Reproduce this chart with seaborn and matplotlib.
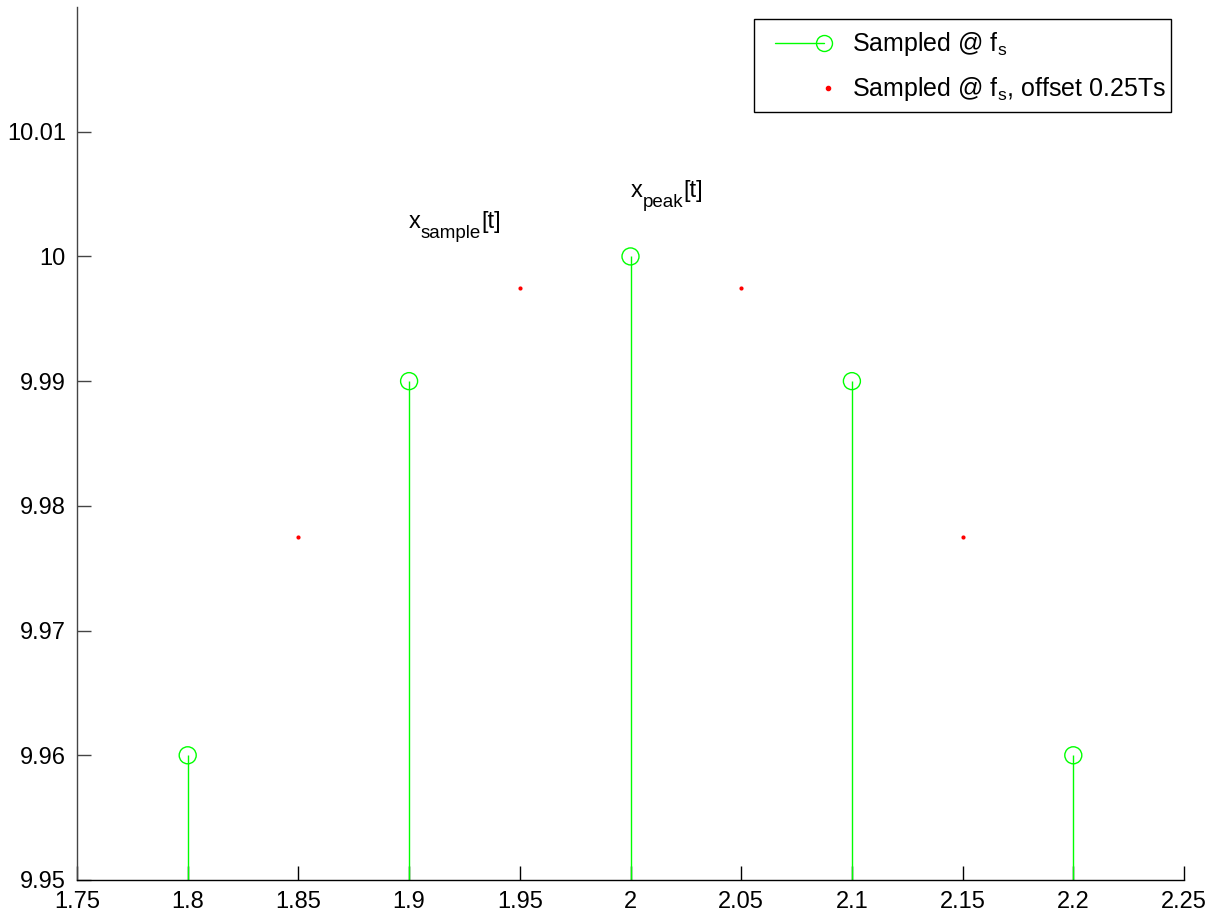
import matplotlib
matplotlib.use("Agg")
import matplotlib.pyplot as plt
from matplotlib.lines import Line2D
from matplotlib.legend_handler import HandlerBase
from matplotlib.transforms import offset_copy
import seaborn as sns
import pandas as pd

# Samples taken at the sampling rate
x_fs = [1.8, 1.9, 2.0, 2.1, 2.2]
y_fs = [9.96, 9.99, 10.0, 9.99, 9.96]

# Samples shifted by a quarter of the sampling period
x_off = [1.85, 1.95, 2.05, 2.15]
y_off = [9.9775, 9.9975, 9.9975, 9.9775]

x_ticks = [1.75, 1.8, 1.85, 1.9, 1.95, 2.0, 2.05, 2.1, 2.15, 2.2, 2.25]
x_tick_labels = ["1.75", "1.8", "1.85", "1.9", "1.95", "2", "2.05", "2.1", "2.15", "2.2", "2.25"]
y_ticks = [9.95, 9.96, 9.97, 9.98, 9.99, 10.0, 10.01]
y_tick_labels = ["9.95", "9.96", "9.97", "9.98", "9.99", "10", "10.01"]

label_fs = r"Sampled @ f$_\mathregular{s}$"
label_off = r"Sampled @ f$_\mathregular{s}$, offset 0.25Ts"

sns.set_theme(style="white")
plt.rcParams["font.family"] = ["Liberation Sans", "DejaVu Sans"]
plt.rcParams["mathtext.fontset"] = "custom"
plt.rcParams["mathtext.rm"] = "Liberation Sans"
plt.rcParams["mathtext.it"] = "Liberation Sans"
plt.rcParams["mathtext.bf"] = "Liberation Sans"
plt.rcParams["text.color"] = "black"
plt.rcParams["axes.labelcolor"] = "black"
plt.rcParams["xtick.color"] = "black"
plt.rcParams["ytick.color"] = "black"

GREEN = "#00ff00"
RED = "#ff0000"
FS = 17
LEG_FS = 18

df_fs = pd.DataFrame({"x": x_fs, "y": y_fs})
df_off = pd.DataFrame({"x": x_off, "y": y_off})

fig = plt.figure(figsize=(12.19, 9.16), dpi=100)
ax = fig.add_axes([77 / 1219, 36 / 916, (1184 - 77) / 1219, (880 - 7) / 916])

ymin, ymax = 9.95, 10.02
ax.vlines(df_fs["x"], ymin, df_fs["y"], color=GREEN, lw=1.0, zorder=2)
sns.scatterplot(data=df_fs, x="x", y="y", ax=ax, marker="o", s=150,
                facecolors="none", edgecolor=GREEN, linewidth=1.0, zorder=3)
sns.scatterplot(data=df_off, x="x", y="y", ax=ax, marker="o", s=9,
                color=RED, edgecolor=RED, linewidth=0, zorder=3)

ax.set_xlim(1.75, 2.25)
ax.set_ylim(ymin, ymax)
ax.set_xticks(x_ticks, x_tick_labels)
ax.set_yticks(y_ticks, y_tick_labels)
ax.set_xlabel("")
ax.set_ylabel("")
ax.tick_params(axis="both", which="major", bottom=True, left=True, top=False, right=False,
               direction="in", length=10, width=1.0, labelsize=FS,
               labelcolor="black", pad=8)
ax.tick_params(axis="x", color="black")
ax.tick_params(axis="y", color="#444444")
for side in ("top", "right"):
    ax.spines[side].set_visible(False)
ax.spines["bottom"].set_color("black")
ax.spines["left"].set_color("#444444")
for side in ("bottom", "left"):
    ax.spines[side].set_linewidth(1.0)

renderer = fig.canvas.get_renderer()


def label_with_subscript(x, y, main, sub, tail, size=FS, subsize=13.5, drop=9.5):
    """Write main text, a lowered subscript and a trailing part, side by side."""
    t1 = ax.text(x, y, main, fontsize=size, ha="left", va="baseline")
    w1 = t1.get_window_extent(renderer).width
    tr2 = offset_copy(ax.transData, fig=fig, x=w1, y=-drop, units="dots")
    t2 = ax.text(x, y, sub, fontsize=subsize, ha="left", va="baseline", transform=tr2)
    w2 = t2.get_window_extent(renderer).width
    tr3 = offset_copy(ax.transData, fig=fig, x=w1 + w2, y=0, units="dots")
    ax.text(x, y, tail, fontsize=size, ha="left", va="baseline", transform=tr3)


label_with_subscript(1.9, 10.00225, "x", "sample", "[t]")
label_with_subscript(2.0, 10.00475, "x", "peak", "[t]")

# Legend handles: stem drawn as a line ending in a hollow circle, inset from the frame
INSET = 12  # pixels of empty space before the handle line


class StemHandler(HandlerBase):
    def create_artists(self, legend, orig_handle, xdescent, ydescent,
                       width, height, fontsize, trans):
        y = height / 2 - ydescent
        x0 = -xdescent + INSET
        x1 = width - xdescent
        line = Line2D([x0, x1], [y, y], color=GREEN, lw=1.0)
        mark = Line2D([x1], [y], marker="o", markersize=11.5,
                      markerfacecolor="none", markeredgecolor=GREEN, lw=0)
        line.set_transform(trans)
        mark.set_transform(trans)
        return [line, mark]


class DotHandler(HandlerBase):
    def create_artists(self, legend, orig_handle, xdescent, ydescent,
                       width, height, fontsize, trans):
        y = height / 2 - ydescent
        x = -xdescent + INSET + 38
        mark = Line2D([x], [y], marker="o", markersize=3, color=RED, lw=0)
        mark.set_transform(trans)
        return [mark]


stem_handle = Line2D([], [], color=GREEN)
dot_handle = Line2D([], [], marker="o", markersize=3, color=RED, lw=0)
px_per_em = LEG_FS * 100 / 72
leg = ax.legend([stem_handle, dot_handle], [label_fs, label_off],
                handler_map={stem_handle: StemHandler(), dot_handle: DotHandler()},
                loc="upper right", bbox_to_anchor=(1171 / 1219, 1 - 19 / 916),
                bbox_transform=fig.transFigure,
                fontsize=LEG_FS, frameon=True, fancybox=False, framealpha=1,
                edgecolor="black", borderpad=0.18,
                handlelength=(INSET + 53) / px_per_em,
                handleheight=2.0,
                handletextpad=1.15, labelspacing=0.25, borderaxespad=0)
leg.get_frame().set_linewidth(1.0)
for t in leg.get_texts():
    t.set_color("black")

fig.savefig("out.png", dpi=100)
